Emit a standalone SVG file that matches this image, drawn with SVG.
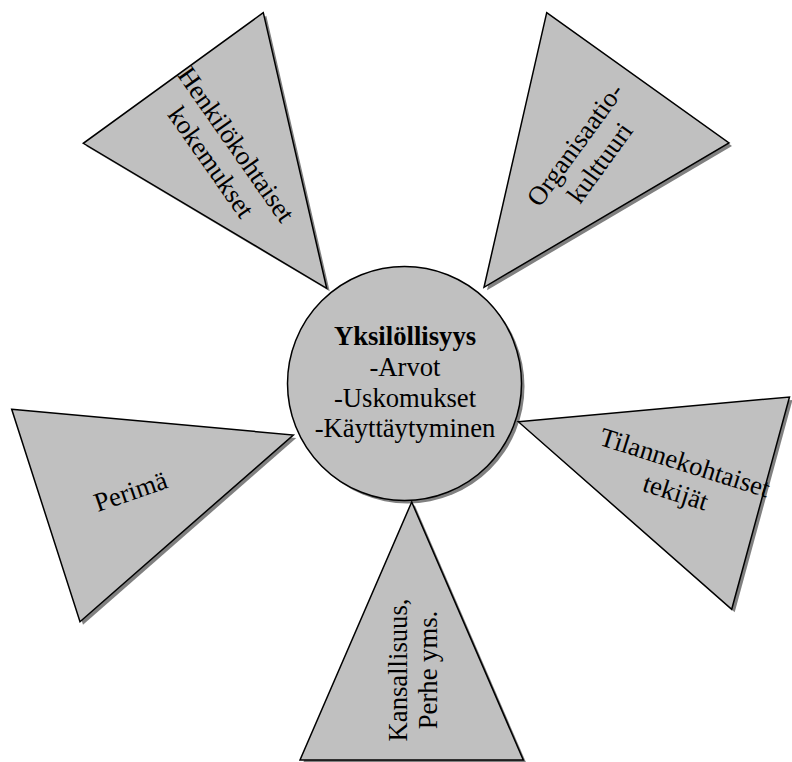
<svg xmlns="http://www.w3.org/2000/svg" width="792" height="762" viewBox="0 0 792 762">
<style>
.shape{fill:#c0c0c0;stroke:#000;stroke-width:1.5;stroke-linejoin:miter}
.shadow{fill:#808080;stroke:none}
.lbl{font-family:"Liberation Serif","Times New Roman",serif;font-size:26.67px;fill:#000;text-anchor:middle}
.b{font-weight:bold}
</style>
<rect width="792" height="762" fill="#fff"/>
<g id="connectors"/>
<g id="center">
  <circle class="shadow" cx="407.5" cy="386.5" r="117"/>
  <circle class="shape" cx="404.5" cy="383.5" r="117"/>
  <text class="lbl" x="405" y="345"><tspan class="b">Yksilöllisyys</tspan></text>
  <text class="lbl" x="405" y="375.7">-Arvot</text>
  <text class="lbl" x="405" y="406.7">-Uskomukset</text>
  <text class="lbl" x="405" y="437.4">-Käyttäytyminen</text>
</g>
<g id="henkilokohtaiset">
  <polygon class="shadow" points="266.3,15.7 86.3,146.3 329.7,291.3"/>
  <polygon class="shape" points="263.3,12.7 83.3,143.3 326.7,288.3"/>
  <text class="lbl" transform="translate(224,153) rotate(55)"><tspan x="0" y="-6">Henkilökohtaiset</tspan><tspan x="0" y="24.7">kokemukset</tspan></text>
</g>
<g id="organisaatiokulttuuri">
  <polygon class="shadow" points="549.7,15.7 732,146 487,290.3"/>
  <polygon class="shape" points="546.7,12.7 729,143 484,287.3"/>
  <text class="lbl" transform="translate(587,153.3) rotate(-54)"><tspan x="0" y="-6">Organisaatio-</tspan><tspan x="0" y="24.7">kulttuuri</tspan></text>
</g>
<g id="perima">
  <polygon class="shadow" points="14.7,412.3 296.3,438 83,624.7"/>
  <polygon class="shape" points="11.7,409.3 293.3,435 80,621.7"/>
  <text class="lbl" transform="translate(130.5,491) rotate(-19)" x="0" y="9.3">Perimä</text>
</g>
<g id="tilannekohtaiset">
  <polygon class="shadow" points="521.3,424.7 792.5,400 734.7,612.3"/>
  <polygon class="shape" points="518.3,421.7 789.5,397 731.7,609.3"/>
  <text class="lbl" transform="translate(680.5,477) rotate(17.5)"><tspan x="0" y="-6.2">Tilannekohtaiset</tspan><tspan x="0" y="24.8">tekijät</tspan></text>
</g>
<g id="kansallisuus">
  <polygon class="shadow" points="414.7,505 303,763 526.3,763"/>
  <polygon class="shape" points="411.7,502 300,760 523.3,760"/>
  <text class="lbl" transform="translate(412.4,670) rotate(-90)"><tspan x="0" y="-5.7">Kansallisuus,</tspan><tspan x="0" y="24.3">Perhe yms.</tspan></text>
</g>
</svg>
